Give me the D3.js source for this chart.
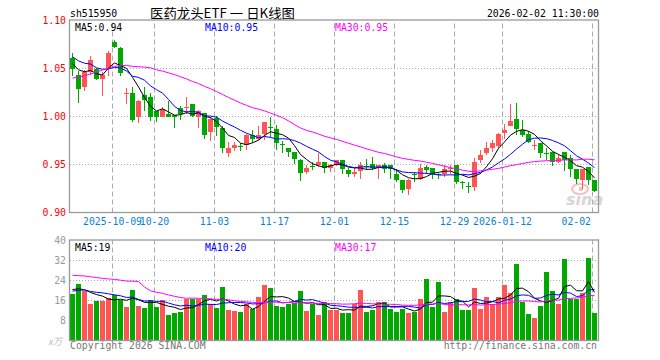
<!DOCTYPE html>
<html><head><meta charset="utf-8">
<script src="https://cdn.jsdelivr.net/npm/d3@7/dist/d3.min.js"></script>
<style>body{margin:0;background:#fff}svg{display:block}</style>
</head><body>
<svg id="chart" width="660" height="360"></svg>
<script>
// ---- data ----
const dates = [
"2025-09-22","2025-09-23","2025-09-24","2025-09-25","2025-09-26","2025-09-29","2025-09-30",
"2025-10-09","2025-10-10","2025-10-13","2025-10-14","2025-10-15","2025-10-16","2025-10-17",
"2025-10-20","2025-10-21","2025-10-22","2025-10-23","2025-10-24","2025-10-27","2025-10-28",
"2025-10-29","2025-10-30","2025-10-31","2025-11-03","2025-11-04","2025-11-05","2025-11-06",
"2025-11-07","2025-11-10","2025-11-11","2025-11-12","2025-11-13","2025-11-14","2025-11-17",
"2025-11-18","2025-11-19","2025-11-20","2025-11-21","2025-11-24","2025-11-25","2025-11-26",
"2025-11-27","2025-11-28","2025-12-01","2025-12-02","2025-12-03","2025-12-04","2025-12-05",
"2025-12-08","2025-12-09","2025-12-10","2025-12-11","2025-12-12","2025-12-15","2025-12-16",
"2025-12-17","2025-12-18","2025-12-19","2025-12-22","2025-12-23","2025-12-24","2025-12-25",
"2025-12-26","2025-12-29","2025-12-30","2025-12-31","2026-01-05","2026-01-06","2026-01-07",
"2026-01-08","2026-01-09","2026-01-12","2026-01-13","2026-01-14","2026-01-15","2026-01-16",
"2026-01-19","2026-01-20","2026-01-21","2026-01-22","2026-01-23","2026-01-26","2026-01-27",
"2026-01-28","2026-01-29","2026-01-30","2026-02-02"];
const open = [
1.061,1.043,1.031,1.046,1.050,1.039,1.050,1.078,1.071,1.023,1.025,1.000,1.022,1.020,
1.0055,0.9993,1.003,1.002,1.0086,1.0086,1.013,1.000,1.0034,0.984,0.9985,0.9885,0.9615,0.9667,
0.969,0.970,0.981,0.977,0.982,0.989,0.9875,0.9715,0.967,0.963,0.955,0.9424,0.9486,0.949,
0.9524,0.9465,0.950,0.9545,0.944,0.9406,0.943,0.9483,0.9503,0.9465,0.9493,0.9493,0.940,0.9337,
0.9243,0.9406,0.9344,0.9469,0.9465,0.940,0.9406,0.9448,0.950,0.9316,0.9278,0.9267,0.9545,0.9615,
0.9667,0.9691,0.9823,0.9903,0.9972,0.9858,0.9816,0.9698,0.9726,0.9625,0.9632,0.9528,0.9632,0.9563,
0.9458,0.9337,0.9476,0.9337];
const high = [
1.066,1.047,1.048,1.063,1.051,1.046,1.068,1.080,1.072,1.030,1.031,1.017,1.031,1.024,
1.006,1.0097,1.016,1.002,1.011,1.020,1.013,1.007,1.004,0.999,1.001,0.990,0.9735,0.9735,
0.9726,0.982,0.986,0.990,0.9944,1.000,0.991,0.974,0.967,0.963,0.9555,0.9493,0.953,0.9615,
0.9524,0.9503,0.9552,0.9545,0.946,0.946,0.9528,0.9562,0.9573,0.9493,0.952,0.9493,0.9458,0.9337,
0.9354,0.9424,0.951,0.9493,0.9465,0.9413,0.9493,0.9493,0.950,0.933,0.932,0.9563,0.965,0.9736,
0.976,0.983,0.9927,1.0128,1.014,0.9962,0.985,0.976,0.9726,0.9677,0.9632,0.9608,0.9632,0.9597,
0.9458,0.9458,0.9476,0.9337];
const low = [
1.042,1.014,1.027,1.043,1.038,1.021,1.042,1.071,1.042,1.0135,0.994,0.993,1.0055,0.995,
0.9945,0.999,0.999,0.988,0.996,1.003,0.9995,0.9885,0.977,0.975,0.980,0.9615,0.958,0.964,
0.964,0.965,0.972,0.9753,0.9753,0.979,0.965,0.962,0.958,0.951,0.933,0.9406,0.944,0.9476,
0.9413,0.9424,0.9483,0.9406,0.9365,0.9365,0.9354,0.944,0.944,0.9354,0.9413,0.9354,0.932,0.9198,
0.918,0.932,0.9337,0.940,0.9354,0.9344,0.9365,0.9406,0.930,0.9243,0.920,0.9226,0.952,0.9597,
0.963,0.9677,0.977,0.9899,0.9812,0.9788,0.9719,0.965,0.9563,0.9552,0.9483,0.9517,0.9434,0.9365,
0.9295,0.925,0.9285,0.9215];
const close = [
1.050,1.029,1.046,1.059,1.039,1.043,1.066,1.072,1.045,1.025,0.996,1.016,1.017,1.000,
0.9995,1.0076,1.000,0.9995,1.003,1.010,1.0005,1.006,0.981,0.997,0.989,0.967,0.9675,0.970,
0.968,0.9805,0.977,0.981,0.9944,0.988,0.972,0.970,0.963,0.9555,0.9415,0.9465,0.9476,0.9524,
0.9465,0.950,0.9545,0.9448,0.9406,0.9424,0.9493,0.9472,0.9465,0.9493,0.9458,0.9448,0.9337,0.9233,
0.9337,0.940,0.946,0.944,0.940,0.9393,0.9458,0.9465,0.932,0.931,0.9271,0.953,0.960,0.9677,
0.9719,0.982,0.986,0.995,0.9875,0.981,0.9736,0.970,0.9615,0.961,0.9528,0.957,0.955,0.9448,
0.9344,0.945,0.9337,0.9226];
const volume = [
18.8,22.8,19.8,14.8,15.7,15.7,17.0,18.1,16.2,13.3,20.1,13.7,13.0,16.1,
13.3,16.1,10.1,10.9,11.5,16.5,16.5,16.6,18.1,14.8,12.9,21.3,12.1,11.7,
11.3,14.8,12.7,17.4,22.1,20.9,14.0,13.4,14.5,15.2,19.7,11.7,14.8,10.1,
15.5,12.1,12.1,11.0,11.0,14.6,20.1,11.4,12.4,15.4,15.4,12.5,11.5,12.5,
11.0,11.4,16.5,24.5,13.3,23.5,11.3,15.3,16.5,12.1,12.1,20.9,12.5,17.3,
14.8,17.5,22.1,19.2,30.5,15.4,10.5,9.0,13.7,27.5,19.7,14.5,32.5,16.5,
16.5,19.1,33.2,11.0];
// closes / volumes of the 29 sessions before the first candle, estimated from where the MA lines start
const priorClose = [1.000,1.005,1.003,0.975,0.981,1.010,1.017,1.020,1.018,1.028,1.025,1.030,1.023,1.060,
1.048,1.055,1.054,1.070,1.078,1.080,1.072,1.070,1.068,1.078,1.058,1.062,1.056,1.052,1.056];
const priorVolume = [26,24,25,23,27,24,23,26,24,21,19,78,62,31,28,30,27,26,26,14,20,18,21,19,18,21,22,20,20];

const tickDates = ["2025-10-09","2025-10-20","2025-11-03","2025-11-17","2025-12-01","2025-12-15","2025-12-29","2026-01-12","2026-02-02"];
const tickLabels = ["2025-10-09","10-20","11-03","11-17","12-01","12-15","12-29","2026-01-12","02-02"];
const priceTicks = [0.90,0.95,1.00,1.05,1.10];
const volTicks = [8,16,24,32,40];
const maPeriods = [5,10,30];
const maColors = ["#000000","#0000ff","#ff00ff"];
const UP = "#ff5555", DOWN = "#00a800";
const MONO = "'DejaVu Sans Mono','Liberation Mono',monospace";

// ---- helpers ----
function movingAvg(prior, series, n){
  const all = prior.concat(series), off = prior.length;
  return series.map((_, i) => d3.mean(all.slice(off + i - n + 1, off + i + 1)));
}

const svg = d3.select("#chart");
const L = 70, R = 598;
const x = d3.scaleBand().domain(dates).range([L, 597]).paddingInner(1/6).paddingOuter(0);
const bw = x.bandwidth();
const yP = d3.scaleLinear().domain([0.90, 1.10]).range([212.5, 20.5]);
const yV = d3.scaleLinear().domain([0, 40]).range([340.5, 240.5]);

// ---- header ----
svg.append("text").attr("x", 70).attr("y", 16.5).attr("font-family", MONO).attr("font-size", 9.8)
  .attr("fill", "#000").text("sh515950");
svg.append("text").attr("x", 150).attr("y", 17.5).attr("font-family", "'Noto Sans CJK SC',sans-serif")
  .attr("font-size", 13).attr("fill", "#000").attr("textLength", 145).attr("lengthAdjust", "spacingAndGlyphs")
  .attr("xml:space", "preserve").style("white-space", "pre")
  .text("医药龙头ETF 一 日K线图");
svg.append("text").attr("x", 599).attr("y", 16.5).attr("text-anchor", "end").attr("font-family", MONO)
  .attr("font-size", 9.8).attr("fill", "#000").text("2026-02-02 11:30:00");

// ---- panels ----
function panel(y0, y1, gridVals, yScale){
  const g = svg.append("g");
  g.selectAll("line.h").data(gridVals).join("line")
    .attr("x1", L).attr("x2", R).attr("y1", d => yScale(d)).attr("y2", d => yScale(d))
    .attr("stroke", "#aaa").attr("stroke-dasharray", "1,2").attr("shape-rendering", "crispEdges");
  g.selectAll("line.v").data(tickDates).join("line")
    .attr("x1", d => x(d) + 0.5).attr("x2", d => x(d) + 0.5).attr("y1", y1).attr("y2", y0)
    .attr("stroke", "#aaa").attr("stroke-dasharray", "5,3");
  return g;
}
panel(20.5, 212.5, [0.95, 1.00, 1.05], yP);
panel(240.5, 340.5, [8, 16, 24, 32], yV);

// ---- sina watermark ----
const wm = svg.append("g").attr("opacity", 0.55);
wm.append("ellipse").attr("cx", 580).attr("cy", 189).attr("rx", 8).attr("ry", 5).attr("fill", "none")
  .attr("stroke", "#f08a8a").attr("stroke-width", 2);
wm.append("circle").attr("cx", 581).attr("cy", 189).attr("r", 2.2).attr("fill", "#f08a8a");
wm.append("text").attr("x", 566).attr("y", 205).attr("font-family", "'DejaVu Sans',sans-serif")
  .attr("font-size", 16).attr("font-weight", "bold").attr("font-style", "italic").attr("fill", "#b5b5b5").text("sina");

// ---- candles ----
const idx = d3.range(dates.length);
const cg = svg.append("g").attr("shape-rendering", "crispEdges");
cg.selectAll("line").data(idx).join("line")
  .attr("x1", i => x(dates[i]) + bw / 2).attr("x2", i => x(dates[i]) + bw / 2)
  .attr("y1", i => yP(high[i])).attr("y2", i => yP(low[i]))
  .attr("stroke", i => close[i] >= open[i] ? UP : DOWN);
cg.selectAll("rect").data(idx).join("rect")
  .attr("x", i => x(dates[i])).attr("width", bw)
  .attr("y", i => yP(Math.max(open[i], close[i])))
  .attr("height", i => Math.max(1, Math.abs(yP(open[i]) - yP(close[i]))))
  .attr("fill", i => close[i] >= open[i] ? UP : DOWN);

// ---- volume bars ----
svg.append("g").attr("shape-rendering", "crispEdges").selectAll("rect").data(idx).join("rect")
  .attr("x", i => x(dates[i])).attr("width", bw)
  .attr("y", i => yV(volume[i])).attr("height", i => yV(0) - yV(volume[i]))
  .attr("fill", i => close[i] >= open[i] ? UP : DOWN);

// ---- moving averages ----
const priceMA = maPeriods.map(n => movingAvg(priorClose, close, n));
const volMA = maPeriods.map(n => movingAvg(priorVolume, volume, n));
function drawMA(series, yScale){
  series.forEach((s, k) => {
    svg.append("path").datum(s).attr("fill", "none").attr("stroke", maColors[k]).attr("stroke-width", 1)
      .attr("d", d3.line().x((d, i) => x(dates[i]) + bw / 2).y(d => yScale(d)));
  });
}
drawMA(priceMA, yP);
drawMA(volMA, yV);

// ---- frames ----
[[20.5, 212.5], [240.5, 340.5]].forEach(([a, b]) => {
  svg.append("rect").attr("x", L - 0.5).attr("y", a - 0.5).attr("width", R - L + 1).attr("height", b - a + 0.5)
    .attr("fill", "none").attr("stroke", "#999").attr("stroke-width", 1.3);
});

// ---- legends ----
const legX = [75, 205, 335];
maPeriods.forEach((n, k) => {
  const pv = priceMA[k][priceMA[k].length - 1];
  const vv = volMA[k][volMA[k].length - 1];
  svg.append("text").attr("x", legX[k]).attr("y", 30.5).attr("font-family", MONO).attr("font-size", 9.8)
    .attr("fill", maColors[k]).text(`MA${n}:${pv.toFixed(2)}`);
  svg.append("text").attr("x", legX[k]).attr("y", 250.5).attr("font-family", MONO).attr("font-size", 9.8)
    .attr("fill", maColors[k]).text(`MA${n}:${Math.floor(vv)}`);
});

// ---- axes ----
const ay = svg.append("g").attr("transform", `translate(${L - 4},0)`)
  .call(d3.axisLeft(yP).tickValues(priceTicks).tickFormat(d3.format(".2f")).tickSize(0).tickPadding(0));
ay.select(".domain").remove();
ay.selectAll("text").attr("font-family", MONO).attr("font-size", 9.8).attr("fill", "#ff0000");

const av = svg.append("g").attr("transform", `translate(${L - 4},0)`)
  .call(d3.axisLeft(yV).tickValues(volTicks).tickFormat(d3.format("d")).tickSize(0).tickPadding(0));
av.select(".domain").remove();
av.selectAll("text").attr("font-family", MONO).attr("font-size", 9.8).attr("fill", "#999");

const ax = svg.append("g").attr("transform", "translate(0,212.5)")
  .call(d3.axisBottom(x).tickValues(tickDates).tickFormat((d, i) => tickLabels[i]).tickSize(0).tickPadding(6));
ax.select(".domain").remove();
ax.selectAll(".tick").attr("transform", d => `translate(${x(d) + 0.5},0)`);
ax.selectAll("text").attr("font-family", MONO).attr("font-size", 9.8).attr("fill", "#0a7fd6");
ax.selectAll("text").filter((d, i) => i === tickDates.length - 1)
  .attr("text-anchor", "end").attr("x", 591 - (x(tickDates[tickDates.length - 1]) + 0.5));

svg.append("text").attr("x", 48).attr("y", 345).attr("font-family", "'Noto Sans CJK SC',sans-serif")
  .attr("font-size", 9.5).attr("font-style", "italic").attr("fill", "#bbb").text("x万");

// ---- footer ----
svg.append("text").attr("x", 70).attr("y", 349).attr("font-family", MONO).attr("font-size", 9.8)
  .attr("fill", "#777").text("Copyright 2026 SINA.COM");
svg.append("text").attr("x", 597).attr("y", 349).attr("text-anchor", "end").attr("font-family", MONO)
  .attr("font-size", 9.8).attr("fill", "#777").text("http://finance.sina.com.cn");
</script>
</body></html>
